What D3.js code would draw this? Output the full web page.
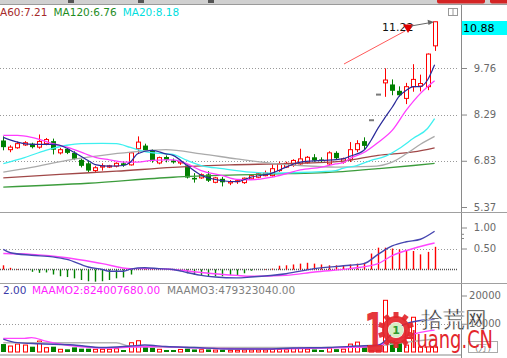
<!DOCTYPE html>
<html><head><meta charset="utf-8">
<script src="https://cdn.jsdelivr.net/npm/d3@7/dist/d3.min.js"></script>
<style>
html,body{margin:0;padding:0;background:#fff;overflow:hidden}
svg{display:block}
text{font-family:"DejaVu Sans",sans-serif}
</style></head><body>
<svg id="c" width="507" height="358"></svg>
<script>
// ---------- DATA ----------
const opens  = [7.47,7.18,7.24,7.33,7.37,7.26,7.37,7.45,7.08,7.21, 7.08,6.86,6.75,6.52,6.63,6.63,6.66,6.75,6.70,7.21, 7.31,7.14,6.76,6.95,6.84,6.76,6.68,6.29,6.29,6.40, 6.15,6.26,6.13,6.17,6.14,6.26,6.31,6.36,6.36,6.52, 6.63,6.68,6.73,6.77,6.94,6.87,6.73,7.08,6.79,6.86, 7.18,7.45,8.11,8.92,9.29,9.24,9.04,8.80,9.17,9.19, 9.17,10.46];
const highs  = [7.60,7.32,7.44,7.45,7.40,7.66,7.55,7.53,7.24,7.25, 7.13,6.90,6.82,6.66,6.75,6.70,6.78,6.80,7.10,7.60, 7.37,7.19,6.96,7.00,6.90,6.86,6.72,6.44,6.43,6.50, 6.32,6.32,6.22,6.24,6.30,6.40,6.45,6.52,6.71,6.80, 6.80,6.88,7.21,6.98,7.04,6.94,7.13,7.13,6.93,7.42, 7.48,7.57,8.11,8.92,9.75,9.40,9.18,9.29,9.88,9.55, 10.22,11.22];
const lows   = [7.16,7.10,7.21,7.30,7.22,7.21,7.32,7.03,7.03,7.04, 6.85,6.62,6.47,6.47,6.52,6.60,6.62,6.64,6.68,7.08, 7.12,6.77,6.72,6.78,6.74,6.70,6.27,6.14,6.26,6.16, 6.12,6.02,6.06,6.10,6.10,6.24,6.28,6.34,6.33,6.48, 6.60,6.64,6.70,6.74,6.80,6.78,6.70,6.87,6.74,6.79, 7.10,7.18,8.11,8.92,8.85,8.90,8.86,8.62,9.01,9.02, 9.06,10.30];
const closes = [7.26,7.26,7.37,7.40,7.26,7.44,7.50,7.18,7.18,7.08, 6.89,6.67,6.52,6.61,6.67,6.67,6.75,6.69,7.08,7.42, 7.16,6.84,6.93,6.86,6.78,6.80,6.30,6.24,6.39,6.20, 6.29,6.15,6.17,6.20,6.28,6.36,6.42,6.44,6.58,6.73, 6.75,6.84,6.89,6.94,6.84,6.82,7.08,6.91,6.89,7.18, 7.37,7.30,8.11,8.92,9.38,9.04,8.90,9.17,9.40,9.27, 10.20,11.22];

// moving averages of price (index, value)
const ma5Idx  = [0,2,4,7,8,10,12,13,15,17,18,19,21,23,24,26,28,31,33,35,38,40,42,45,48,49,51,52,53,54,55,56,57,58,59,60,61];
const ma5Val  = [7.57,7.42,7.35,7.35,7.32,7.10,6.84,6.71,6.66,6.68,6.79,7.05,7.16,7.05,7.00,6.68,6.37,6.20,6.17,6.31,6.44,6.63,6.79,6.84,6.89,6.97,7.16,7.47,7.86,8.20,8.52,8.87,9.06,9.17,9.17,9.38,9.86];
const ma10Idx = [0,2,4,7,9,11,13,15,17,19,21,23,24,26,28,31,33,35,38,40,42,45,47,48,49,51,53,55,57,59,61];
const ma10Val = [7.63,7.63,7.57,7.37,7.26,7.10,6.94,6.86,6.79,6.79,6.84,6.86,6.86,6.73,6.52,6.36,6.24,6.23,6.31,6.42,6.54,6.63,6.73,6.76,6.90,7.09,7.41,7.79,8.43,8.96,9.36];
const ma20Idx = [0,3,6,9,11,14,16,18,20,23,24,26,28,31,35,38,42,45,47,48,50,52,54,56,58,60,61];
const ma20Val = [6.74,6.93,7.16,7.32,7.37,7.38,7.37,7.25,7.12,7.05,7.03,6.84,6.68,6.58,6.47,6.44,6.46,6.49,6.52,6.59,6.68,6.84,6.97,7.22,7.54,7.85,8.16];
const ma30Idx = [0,4,9,14,18,23,28,33,38,42,47,52,55,57,59,61];
const ma30Val = [6.47,6.62,6.84,7.00,7.10,7.18,7.05,6.89,6.75,6.68,6.63,6.65,6.79,7.05,7.35,7.60];
const ma60Idx = [0,8,16,24,32,40,48,53,58,61];
const ma60Val = [6.29,6.40,6.50,6.62,6.70,6.74,6.82,7.00,7.11,7.24];
const ma120Idx = [0,12,24,36,48,53,58,61];
const ma120Val = [6.00,6.12,6.31,6.40,6.49,6.58,6.68,6.75];

const priceTicks = [9.76,8.29,6.83,5.37];
const priceGrid = [9.76,8.29,6.83];
const lastPriceLabel = "10.88";
const highMark = 11.22;

// MACD
const macdBar = [0.10,0.04,0.01,0.00,-0.055,-0.08,-0.07,-0.12,-0.16,-0.18, -0.21,-0.25,-0.28,-0.29,-0.28,-0.25,-0.21,-0.19,-0.12,-0.01, 0.01,0.01,0.00,0.01,0.00,-0.04,-0.09,-0.13,-0.13,-0.16, -0.16,-0.16,-0.13,-0.13,-0.09,-0.03,0.00,0.01,0.02,0.09, 0.10,0.12,0.14,0.16,0.14,0.12,0.10,0.10,0.10,0.12, 0.14,0.16,0.38,0.52,0.52,0.50,0.48,0.46,0.44,0.36, 0.42,0.54];
const difIdx = [0,1,4,7,9,12,14,15,17,18,20,22,24,26,28,30,33,35,40,44,49,51,53,55,57,59,61];
const difVal = [0.48,0.40,0.34,0.30,0.24,0.06,0.00,-0.04,-0.04,0.01,0.04,0.02,0.00,-0.07,-0.14,-0.18,-0.20,-0.18,-0.10,0.02,0.10,0.14,0.36,0.56,0.66,0.72,0.91];
const deaIdx = [0,4,9,14,18,20,22,24,28,33,35,40,44,49,53,55,58,61];
const deaVal = [0.38,0.36,0.28,0.14,0.02,0.02,0.02,0.00,-0.07,-0.14,-0.16,-0.14,-0.06,0.02,0.14,0.33,0.50,0.63];
const macdTicks = [1.00,0.50];
const macdMinor = [0.85,0.75];

// Volume
const volumes = [2820,2110,2820,2460,1880,3870,1530,1880,950,950, 1640,1170,1170,950,950,950,1170,700,3280,3990, 1880,1530,950,700,700,900,1200,900,800,900, 700,800,600,600,700,700,700,700,900,900, 800,1200,1600,1000,900,700,1400,1000,1000,2800, 3500,2000,500,600,18300,4200,3500,2460,12300,1800, 1800,1800];
const vma5Idx = [0,2,5,10,14,18,20,23,27,32,37,41,46,50,53,56,58,61];
const vma5Val = [4580,3300,2900,2460,1580,2110,2460,1940,1580,1060,1060,1410,1580,2110,2460,8900,10700,11600];
const vma10Idx = [0,3,4,6,8,11,15,18,22,26,30,36,42,48,52,55,58,60,61];
const vma10Val = [4820,4820,5100,3870,2820,1870,1410,1760,1940,1580,1230,1060,1230,1580,1940,3870,6340,7400,7750];
const vma3Idx = [0,16,18,30,45,52,56,61];
const vma3Val = [3270,3270,1940,1580,1580,1940,3170,4580];
const volTicks = [20000,10000];

const topLegend = [["A60:7.21","#a52a2a"],["MA120:6.76","#1e8c1e"],["MA20:8.18","#00dede"]];
const volLegend = [["2.00","#3a3aa8"],["MAAMO2:824007680.00","#ff22ff"],["MAAMO3:479323040.00","#808080"]];

// ---------- SCALES ----------
const svg = d3.select("#c");
const x = d3.scaleLinear().domain([0,61]).range([3.3,434.6]);
const yP = d3.scaleLinear().domain([5.37,9.76]).range([207,68]);
const yM = d3.scaleLinear().domain([0,1]).range([269.5,227.5]);
const yV = d3.scaleLinear().domain([0,20000]).range([352,295.5]);
const RED="#ff0000", GREEN="#008000";

// ---------- CHROME ----------
svg.append("rect").attr("x",0).attr("y",0).attr("width",507).attr("height",4).attr("fill","#d0d0d0");
svg.append("line").attr("x1",0).attr("x2",507).attr("y1",4.5).attr("y2",4.5).attr("stroke","#9a9a9a");
svg.append("rect").attr("x",437).attr("y",-2).attr("width",48).attr("height",5.5).attr("rx",2).attr("fill","#d42424");
svg.append("rect").attr("x",490).attr("y",-2).attr("width",19).attr("height",5.5).attr("rx",2).attr("fill","#d42424");
[68,138,208].forEach(px=>svg.append("rect").attr("x",px).attr("y",0).attr("width",6).attr("height",3).attr("fill","#555"));

// axis & separators
svg.append("line").attr("x1",461.5).attr("x2",461.5).attr("y1",5).attr("y2",358).attr("stroke","#8a8a8a");
[212.5,283.5].forEach(yy=>svg.append("line").attr("x1",0).attr("x2",507).attr("y1",yy).attr("y2",yy).attr("stroke","#a0a0a0"));
svg.append("line").attr("x1",0).attr("x2",461).attr("y1",355).attr("y2",355).attr("stroke","#c4c4c4").attr("stroke-width",2);

// grids
priceGrid.forEach(v=>svg.append("line").attr("x1",0).attr("x2",457).attr("y1",Math.round(yP(v))+0.5).attr("y2",Math.round(yP(v))+0.5).attr("stroke","#999").attr("stroke-dasharray","1,2"));
svg.append("line").attr("x1",0).attr("x2",457).attr("y1",Math.round(yM(0.5))+0.5).attr("y2",Math.round(yM(0.5))+0.5).attr("stroke","#999").attr("stroke-dasharray","1,2");
svg.append("line").attr("x1",0).attr("x2",457).attr("y1",yM(0)).attr("y2",yM(0)).attr("stroke","#555").attr("stroke-width",1.3).attr("stroke-dasharray","1,1");
svg.append("line").attr("x1",0).attr("x2",457).attr("y1",Math.round(yV(10000))+0.5).attr("y2",Math.round(yV(10000))+0.5).attr("stroke","#999").attr("stroke-dasharray","1,2");

// axes
function styleAxis(g){
  g.select(".domain").remove();
  g.attr("font-family","DejaVu Sans").attr("font-size",10);
  g.selectAll(".tick line").attr("stroke","#888");
  g.selectAll(".tick text").attr("x",24).attr("text-anchor","middle").attr("fill","#6a6a6a");
}
svg.append("g").attr("transform","translate(461,0)").call(d3.axisRight(yP).tickValues(priceTicks).tickSize(6).tickFormat(d3.format(".2f"))).call(styleAxis);
svg.append("g").attr("transform","translate(461,0)").call(d3.axisRight(yM).tickValues(macdTicks).tickSize(6).tickFormat(d3.format(".2f"))).call(styleAxis);
svg.append("g").attr("transform","translate(461,0)").call(d3.axisRight(yM).tickValues(macdMinor).tickSize(3).tickFormat("")).call(styleAxis);
svg.append("g").attr("transform","translate(461,0)").call(d3.axisRight(yV).tickValues(volTicks).tickSize(6).tickFormat(d3.format("d"))).call(styleAxis);

// last price box
svg.append("rect").attr("x",462).attr("y",21).attr("width",45).attr("height",14).attr("fill","#00ffff");
svg.append("text").attr("x",463).attr("y",32).attr("font-size",11).attr("fill","#000").text(lastPriceLabel);
// small icon
svg.append("rect").attr("x",448.5).attr("y",8.5).attr("width",9).attr("height",7).attr("fill","none").attr("stroke","#999");
svg.append("line").attr("x1",453).attr("x2",453).attr("y1",8.5).attr("y2",15.5).attr("stroke","#999");

// top legend
let lx = 0;
const tl = svg.append("text").attr("x",0).attr("y",16).attr("font-size",10.5);
topLegend.forEach((d,i)=>tl.append("tspan").attr("dx",i?6:0).attr("fill",d[1]).text(d[0]));

// ---------- CANDLES ----------
const cg = svg.append("g");
closes.forEach((c,i)=>{
  const o=opens[i], h=highs[i], l=lows[i];
  const cx = Math.round(x(i));
  if (o===c && h===l) {
    cg.append("rect").attr("x",cx-2).attr("y",yP(c)-1).attr("width",5).attr("height",2).attr("fill","#7a7a7a");
    return;
  }
  const up = c>=o;
  const col = up?RED:GREEN;
  const top = yP(Math.max(o,c)), bot = yP(Math.min(o,c));
  cg.append("line").attr("x1",cx+0.5).attr("x2",cx+0.5).attr("y1",yP(h)).attr("y2",yP(l)).attr("stroke",col);
  if (up) cg.append("rect").attr("x",cx-1.5).attr("y",top).attr("width",4).attr("height",Math.max(1,bot-top)).attr("fill","#fff").attr("stroke",col);
  else cg.append("rect").attr("x",cx-2).attr("y",top).attr("width",5).attr("height",Math.max(1.2,bot-top)).attr("fill",col);
});

function drawLine(idx,val,ys,color,w){
  const pts = idx.map((d,k)=>[d,val[k]]);
  svg.append("path").attr("d",d3.line().x(d=>x(d[0])).y(d=>ys(d[1])).curve(d3.curveMonotoneX)(pts))
    .attr("fill","none").attr("stroke",color).attr("stroke-width",w||1.3);
}
drawLine(ma120Idx,ma120Val,yP,"#3c9c3c");
drawLine(ma60Idx,ma60Val,yP,"#a04848");
drawLine(ma30Idx,ma30Val,yP,"#aaaaaa");
drawLine(ma20Idx,ma20Val,yP,"#3ff0f0");
drawLine(ma10Idx,ma10Val,yP,"#ff3cff");
drawLine(ma5Idx,ma5Val,yP,"#2a2a9a",1.2);

// annotation
svg.append("line").attr("x1",344).attr("y1",64).attr("x2",405).attr("y2",31).attr("stroke","#ff5a5a");
svg.append("text").attr("x",382).attr("y",31).attr("font-size",11).attr("fill","#111").text(d3.format(".2f")(highMark));
svg.append("path").attr("d","M403,24.5 L413.5,24.5 L408,33 Z").attr("fill","#e00000");
svg.append("line").attr("x1",411).attr("y1",26).attr("x2",431).attr("y2",22.5).attr("stroke","#666");
svg.append("path").attr("d","M434,22 L427.5,19.8 L428.5,25 Z").attr("fill","#666");

// ---------- MACD ----------
const mg = svg.append("g");
macdBar.forEach((v,i)=>{
  if (Math.abs(v)<0.005) return;
  const cx = Math.round(x(i))+0.5;
  mg.append("line").attr("x1",cx).attr("x2",cx).attr("y1",yM(0)).attr("y2",yM(v)).attr("stroke",v>0?RED:GREEN).attr("stroke-width",1.4);
});
drawLine(deaIdx,deaVal,yM,"#ff44ff",1.4);
drawLine(difIdx,difVal,yM,"#4646b0",1.4);

// ---------- VOLUME ----------
const vg = svg.append("g");
volumes.forEach((v,i)=>{
  const cx = Math.round(x(i));
  const up = closes[i]>opens[i] || (closes[i]===opens[i] && (i===0 || closes[i]>=closes[i-1]));
  if (up) vg.append("rect").attr("x",cx-1.5).attr("y",yV(v)).attr("width",4).attr("height",yV(0)-yV(v)).attr("fill","#fff").attr("stroke",RED);
  else vg.append("rect").attr("x",cx-2).attr("y",yV(v)).attr("width",5).attr("height",yV(0)-yV(v)).attr("fill",GREEN);
});
drawLine(vma3Idx,vma3Val,yV,"#b4b4b4",1.5);
drawLine(vma10Idx,vma10Val,yV,"#ff44ff",1.4);
drawLine(vma5Idx,vma5Val,yV,"#4646b0",1.4);

const vlx=[3,32,167];
volLegend.forEach((d,i)=>svg.append("text").attr("x",vlx[i]).attr("y",294).attr("font-size",10.5).attr("fill",d[1]).text(d[0]));

// unit box
svg.append("rect").attr("x",468.5).attr("y",341.5).attr("width",29).attr("height",11).attr("fill","#fff").attr("stroke","#aaa");
svg.append("text").attr("x",483).attr("y",350.5).attr("text-anchor","middle").attr("font-size",9).attr("fill","#888").text("(万)");

// ---------- WATERMARK ----------
const wm = svg.append("g");
wm.append("text").attr("x",364).attr("y",352).attr("font-family","Liberation Sans").attr("font-weight","bold").attr("font-size",56)
  .attr("textLength",21).attr("lengthAdjust","spacingAndGlyphs").attr("fill","#e3262b").attr("opacity",0.92).text("1");
const gc=[396,330];
for(let k=0;k<10;k++){
  const a=k*36;
  wm.append("rect").attr("x",gc[0]-2.5).attr("y",gc[1]-18).attr("width",5).attr("height",6).attr("fill","#e3262b")
    .attr("transform",`rotate(${a},${gc[0]},${gc[1]})`).attr("opacity",0.92);
}
wm.append("circle").attr("cx",gc[0]).attr("cy",gc[1]).attr("r",11).attr("fill","none").attr("stroke","#e3262b").attr("stroke-width",6).attr("opacity",0.92);
wm.append("circle").attr("cx",gc[0]).attr("cy",gc[1]).attr("r",7.5).attr("fill","#d6edc6");
wm.append("text").attr("x",gc[0]).attr("y",gc[1]+4).attr("text-anchor","middle").attr("font-size",11).attr("font-weight","bold").attr("fill","#2e9a2e").text("1");
wm.append("text").attr("x",421).attr("y",327).attr("font-family","Noto Sans CJK SC").attr("font-size",22).attr("fill","#2b2b2b")
  .attr("stroke","#fff").attr("stroke-width",0.4).text("拾荒网");
wm.append("text").attr("x",403).attr("y",348).attr("font-family","Liberation Sans").attr("font-size",25)
  .attr("textLength",90).attr("lengthAdjust","spacingAndGlyphs").attr("fill","#e3262b").text("Huang.CN");
</script>
</body></html>
